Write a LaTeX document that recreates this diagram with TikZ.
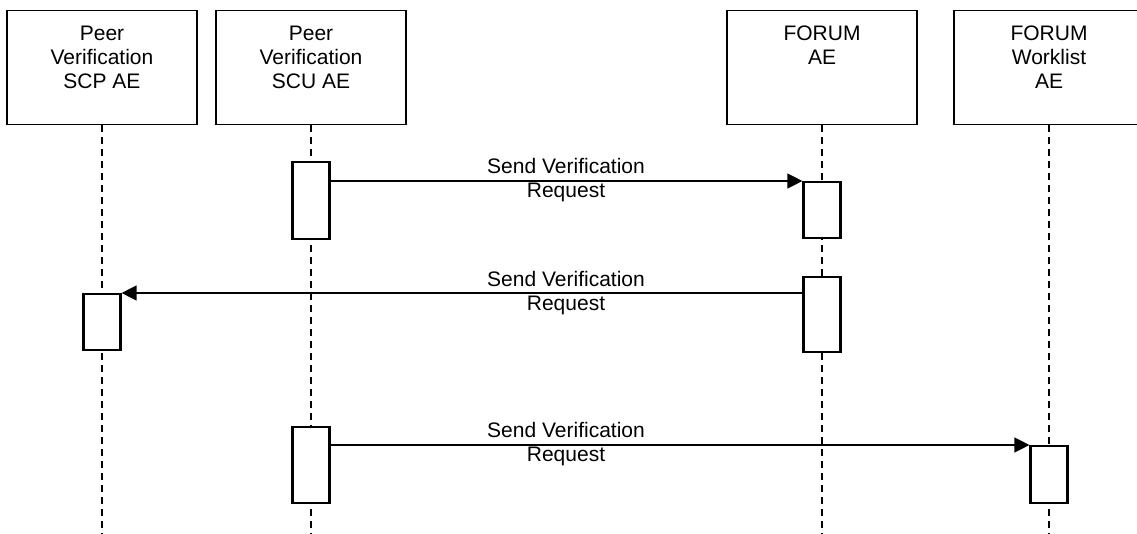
\documentclass[tikz,border=0pt]{standalone}
\usepackage{fontspec}
\setmainfont{Liberation Sans}
\usetikzlibrary{arrows.meta}
\begin{document}
\begin{tikzpicture}[x=1pt,y=-1pt,
 hdr/.style={draw, line width=1.2pt, minimum width=190pt, minimum height=114pt, inner sep=0pt, anchor=north},
 hdrtext/.style={align=center, inner sep=0pt, anchor=north, font=\fontsize{21}{24}\selectfont},
 life/.style={line width=2pt, dash pattern=on 7pt off 5pt},
 act/.style={draw, fill=white, line width=2.2pt, minimum width=37pt, inner sep=0pt, anchor=north},
 msg/.style={line width=1.3pt, -{Triangle[length=15pt,width=15pt]}},
 lbl/.style={align=center, inner sep=0pt, anchor=north, font=\fontsize{21}{24}\selectfont}]
\useasboundingbox (0,0) rectangle (1137,534);
\clip (0,0) rectangle (1137,534);
\fill[white] (0,0) rectangle (1137,534);
% headers
\node[hdr] (H1) at (102,10) {};
\node[hdr] (H2) at (311,10) {};
\node[hdr] (H3) at (822,10) {};
\node[hdr] (H4) at (1049,10) {};
\node[hdrtext] (T1) at (102,26) {Peer\\Verification\\SCP AE};
\node[hdrtext] (T2) at (311,26) {Peer\\Verification\\SCU AE};
\node[hdrtext] (T3) at (822,26) {FORUM\\AE};
\node[hdrtext] (T4) at (1049,26) {FORUM\\Worklist\\AE};
% lifelines
\coordinate (B1) at (102,534);
\coordinate (B2) at (311,534);
\coordinate (B3) at (822,534);
\coordinate (B4) at (1049,534);
\draw[life] (H1.south) -- (B1);
\draw[life] (H2.south) -- (B2);
\draw[life] (H3.south) -- (B3);
\draw[life] (H4.south) -- (B4);
% activations
\node[act, minimum height=77pt] (A1) at (311,161) {};
\node[act, minimum height=56pt] (A2) at (822,181) {};
\node[act, minimum height=75pt] (A3) at (822,276) {};
\node[act, minimum height=56pt] (A4) at (102,293) {};
\node[act, minimum height=76pt] (A5) at (311,426) {};
\node[act, minimum height=57pt] (A6) at (1049,445) {};
% messages
\draw[msg] (A1.east |- A2.north west) -- (A2.north west);
\draw[msg] (A3.west |- A4.north east) -- (A4.north east);
\draw[msg] (A5.east |- A6.north west) -- (A6.north west);
\node[lbl] (L1) at (566,158) {Send Verification\\Request};
\node[lbl] (L2) at (566,271) {Send Verification\\Request};
\node[lbl] (L3) at (566,422) {Send Verification\\Request};
\end{tikzpicture}
\end{document}
